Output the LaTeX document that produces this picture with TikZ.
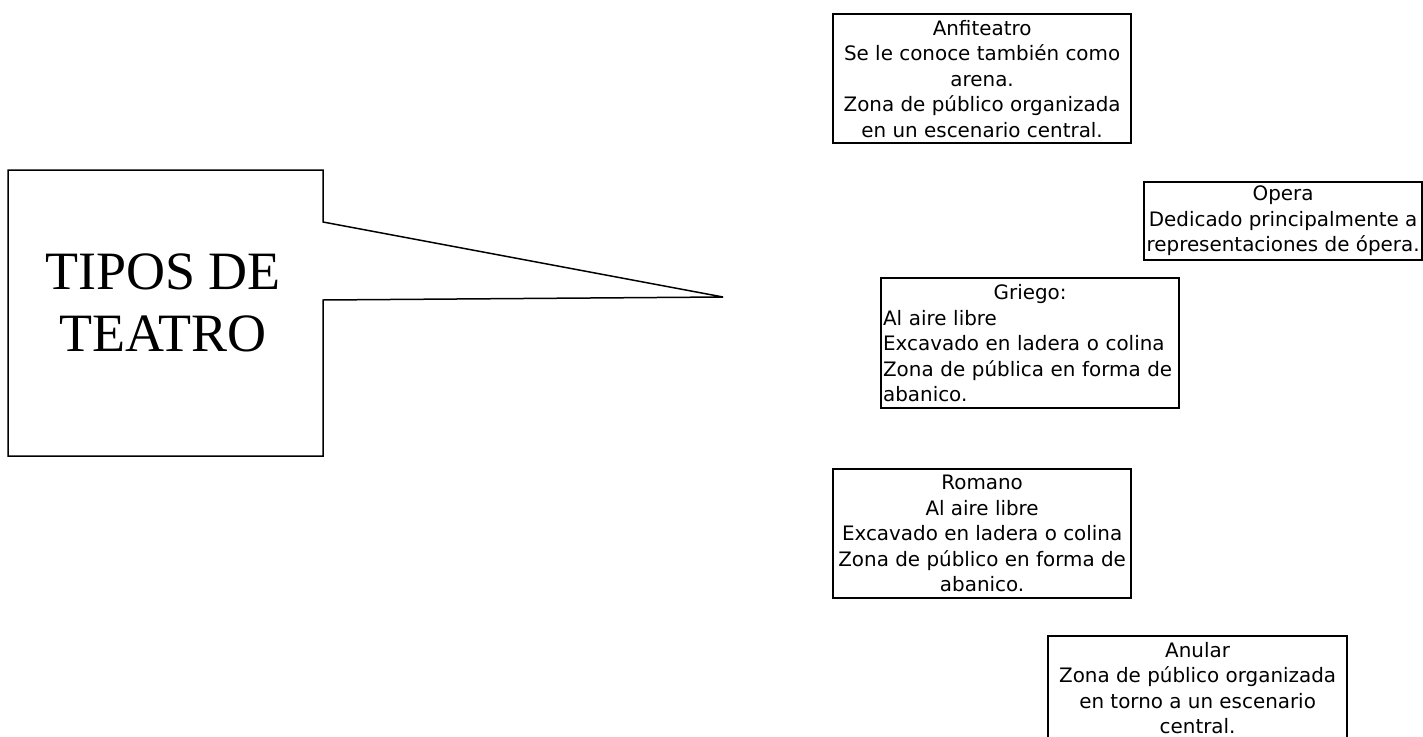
\documentclass[tikz,border=0pt]{standalone}
\usepackage{fontspec}
\setmainfont{Liberation Serif}
\newfontfamily\boxfont{DejaVu Sans}
\tikzset{
  tbox/.style={draw, line width=2.2pt, anchor=north west, inner sep=0pt,
    align=center, font={\boxfont\fontsize{19.9pt}{25.5pt}\selectfont}},
  callout/.style={draw, line width=1.5pt, line join=miter},
  bigtext/.style={inner sep=0pt, align=center,
    font={\fontsize{54pt}{62pt}\selectfont}}
}
\begin{document}
\begin{tikzpicture}[x=1pt,y=-1pt]
\useasboundingbox (0,0) rectangle (1423,736);
\fill[white] (0,0) rectangle (1423,736);
% callout
\coordinate (c1) at (8,170);
\coordinate (c2) at (323,170);
\coordinate (c3) at (323,222);
\coordinate (tip) at (723,297);
\coordinate (c4) at (323,300);
\coordinate (c5) at (323,456);
\coordinate (c6) at (8,456);
\draw[callout] (c1) -- (c2) -- (c3) -- (tip) -- (c4) -- (c5) -- (c6) -- cycle;
\node[bigtext] (title) at (163,303) {TIPOS DE\\TEATRO};
% boxes
\node[tbox, minimum width=298pt, minimum height=129pt] (anf) at (832,13)
  {Anfiteatro\\Se le conoce también como\\arena.\\Zona de público organizada\\en un escenario central.};
\node[tbox, minimum width=278pt, minimum height=78pt] (opera) at (1143,181)
  {Opera\\Dedicado principalmente a\\representaciones de ópera.};
\node[tbox, minimum width=298pt, minimum height=130pt, align=left, text width=294pt] (griego) at (880,277)
  {\makebox[294pt][c]{Griego:}\\Al aire libre\\Excavado en ladera o colina\\Zona de pública en forma de\\abanico.};
\node[tbox, minimum width=298pt, minimum height=129pt] (romano) at (832,468)
  {Romano\\Al aire libre\\Excavado en ladera o colina\\Zona de público en forma de\\abanico.};
\node[tbox, minimum width=299pt, minimum height=104pt] (anular) at (1047,635)
  {Anular\\Zona de público organizada\\en torno a un escenario\\central.};
\end{tikzpicture}
\end{document}
